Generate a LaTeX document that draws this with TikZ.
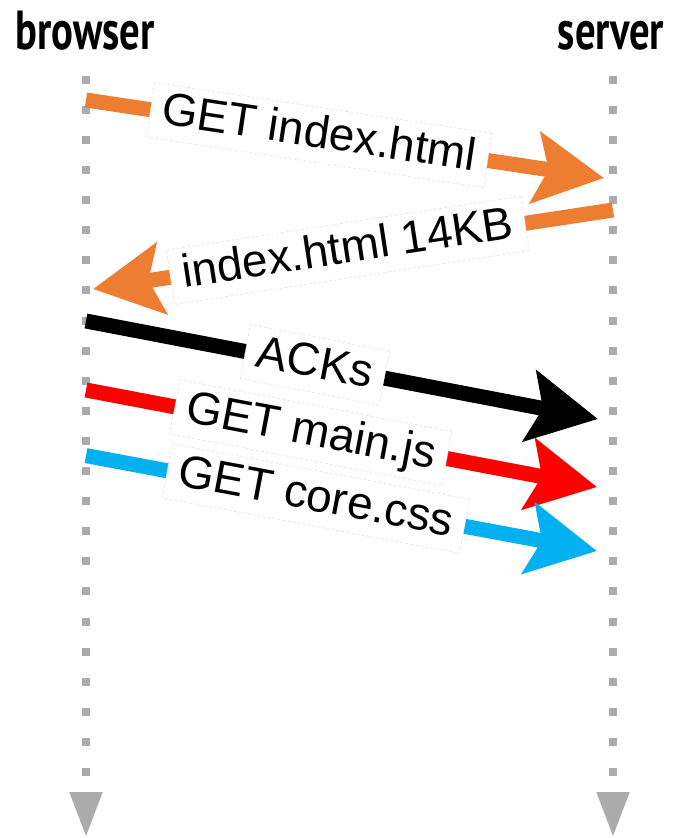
\documentclass[tikz,border=0pt]{standalone}
\usepackage{fontspec}
\setmainfont{Liberation Sans}
\newfontfamily\headfont[FakeStretch=0.74]{PT Sans Bold}
\usetikzlibrary{arrows.meta, positioning, calc}
\definecolor{msgorange}{RGB}{237,125,49}
\definecolor{msgred}{RGB}{255,0,0}
\definecolor{msgblue}{RGB}{0,176,240}
\definecolor{lifegray}{RGB}{171,171,171}

\begin{document}
\begin{tikzpicture}[x=1pt,y=-1pt,
    lifeline/.style={lifegray,line width=8pt,dash pattern=on 8pt off 22.1pt,-{Triangle[length=45pt,width=31pt]}},
    msg/.style={line width=15pt,-{Stealth[length=69pt,width=71pt,inset=13pt]}},
    msglabel/.style={sloped,fill=white,draw=black!15,densely dashed,line width=0.4pt,text=black,
      font=\fontsize{46}{46}\selectfont,text height=34pt,text depth=9pt,inner xsep=12pt,inner ysep=6pt},
    head/.style={font=\headfont\fontsize{55}{55}\selectfont,anchor=base}]
      \useasboundingbox (0,0) rectangle (674,838);
      \node[head] (browser) at (85,49){browser};
      \node[head] (server) at (611,49){server};
      \coordinate (B0) at (86,75.7);
      \coordinate (B1) at (86,837);
      \coordinate (S0) at (613,75.7);
      \coordinate (S1) at (613,837);
      \draw[lifeline] (B0) -- (B1);
      \draw[lifeline] (S0) -- (S1);
      \coordinate (G0) at (86,100);
      \coordinate (G1) at (604,178);
      \coordinate (R0) at (613,210);
      \coordinate (R1) at (93,289);
      \coordinate (A0) at (86,321);
      \coordinate (A1) at (598,419);
      \coordinate (J0) at (86,390);
      \coordinate (J1) at (597,487);
      \coordinate (C0) at (86,455.6);
      \coordinate (C1) at (597,551);
      \draw[msg, msgorange] (G0) -- node[msglabel, pos=0.45]{GET index.html} (G1);
      \draw[msg, msgorange] (R0) -- node[msglabel, pos=0.51]{index.html 14KB} (R1);
      \draw[msg, black] (A0) -- node[msglabel, pos=0.447]{ACKs} (A1);
      \draw[msg, msgred] (J0) -- node[msglabel, pos=0.44]{GET main.js} (J1);
      \draw[msg, msgblue] (C0) -- node[msglabel, pos=0.45]{GET core.css} (C1);
    \end{tikzpicture}
\end{document}
